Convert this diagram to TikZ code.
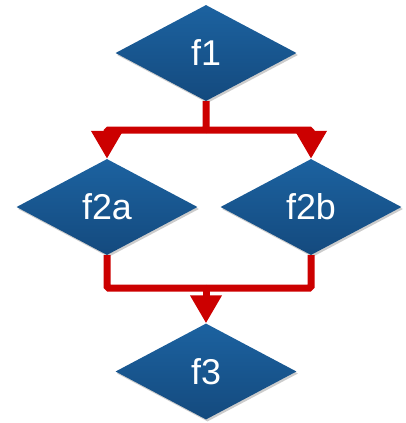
\documentclass[tikz,border=0pt]{standalone}
\usepackage{fontspec}
\setmainfont{Liberation Sans}
\usetikzlibrary{shapes.geometric,arrows.meta,shadows}
\definecolor{dtop}{RGB}{28,98,160}
\definecolor{dbot}{RGB}{20,74,126}
\definecolor{conred}{RGB}{204,0,0}
\begin{document}
\begin{tikzpicture}[x=1bp,y=-1bp,
  dnode/.style={diamond, minimum width=181bp, minimum height=96bp, inner sep=0pt,
    top color=dtop, bottom color=dbot, draw=none, text=white,
    font=\fontsize{36}{42}\selectfont,
    drop shadow={fill=black, opacity=0.2, shadow xshift=1.5bp, shadow yshift=-2bp}},
  conn/.style={draw=conred, line width=7bp, rounded corners=1.5bp},
  carrow/.style={conn, -{Triangle[width=30bp,length=28bp]}}]
\useasboundingbox (0,0) rectangle (406,423);
\node[dnode] (f1) at (206,53) {f1};
\node[dnode] (f2a) at (107,207) {f2a};
\node[dnode] (f2b) at (311,207) {f2b};
\node[dnode] (f3) at (206,371.5) {f3};
\coordinate (j1) at (206,130);
\coordinate (j2) at (206,288);
\draw[carrow] (f1.south) -- (j1) -| (f2a.north);
\draw[carrow] (j1) -| (f2b.north);
\draw[conn] (f2a.south) |- (j2);
\draw[conn] (f2b.south) |- (j2);
\draw[carrow] (j2) -- (f3.north);
\end{tikzpicture}
\end{document}
